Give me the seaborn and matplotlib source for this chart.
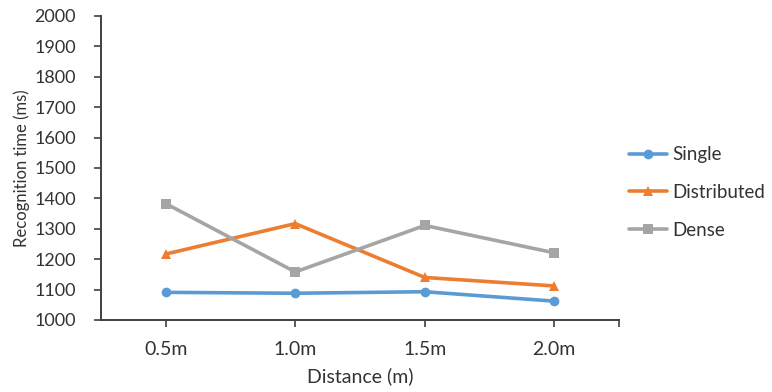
import matplotlib
matplotlib.use("Agg")
import matplotlib.pyplot as plt
import seaborn as sns
import pandas as pd

distances = ["0.5m", "1.0m", "1.5m", "2.0m"]
single = [1091, 1088, 1093, 1062]
distributed = [1217, 1317, 1140, 1112]
dense = [1383, 1158, 1311, 1221]
series_names = ["Single", "Distributed", "Dense"]
colors = ["#5B9BD5", "#ED7D31", "#A5A5A5"]
markers = ["o", "^", "s"]

rows = []
for name, vals in zip(series_names, [single, distributed, dense]):
    for d, v in zip(distances, vals):
        rows.append({"Distance": d, "Time": v, "Series": name})
df = pd.DataFrame(rows)

sns.set_theme(style="white")
plt.rcParams["font.family"] = ["Lato", "DejaVu Sans"]

fig = plt.figure(figsize=(7.72, 3.92), dpi=100)
ax = fig.add_axes([101 / 772, 72 / 392, 518 / 772, 304 / 392])

sns.lineplot(
    data=df, x="Distance", y="Time", hue="Series", style="Series",
    hue_order=series_names, style_order=series_names,
    palette=colors, markers=markers, dashes=False, sort=False,
    linewidth=2.6, markersize=7, markeredgewidth=0, ax=ax,
)

ax.set_xlim(-0.5, 3.5)
ax.set_ylim(1000, 2000)
ax.set_yticks(range(1000, 2001, 100))
ax.set_xticks([0, 1, 2, 3, 3.5])
ax.set_xticklabels(distances + [""])

text_color = "#333333"
axis_color = "#404040"
for side in ["top", "right"]:
    ax.spines[side].set_visible(False)
for side in ["left", "bottom"]:
    ax.spines[side].set_color(axis_color)
    ax.spines[side].set_linewidth(1.4)
ax.tick_params(axis="both", which="major", direction="out", length=5, width=1.2,
               color=axis_color, labelcolor=text_color, left=True, bottom=True)
ax.tick_params(axis="x", pad=10, labelsize=14)
ax.tick_params(axis="y", pad=13, labelsize=13)

ax.set_xlabel("Distance (m)", fontsize=14, color=text_color, labelpad=7)
ax.set_ylabel("Recognition time (ms)", fontsize=12, color=text_color, labelpad=3)

leg = ax.legend(
    loc="upper left", bbox_to_anchor=(1.0, 0.605), frameon=False,
    fontsize=13.5, handlelength=2.0, handletextpad=0.3, labelspacing=1.1,
    borderaxespad=0.15,
)
for text in leg.get_texts():
    text.set_color(text_color)

fig.savefig("out.png", dpi=100, facecolor="white")
